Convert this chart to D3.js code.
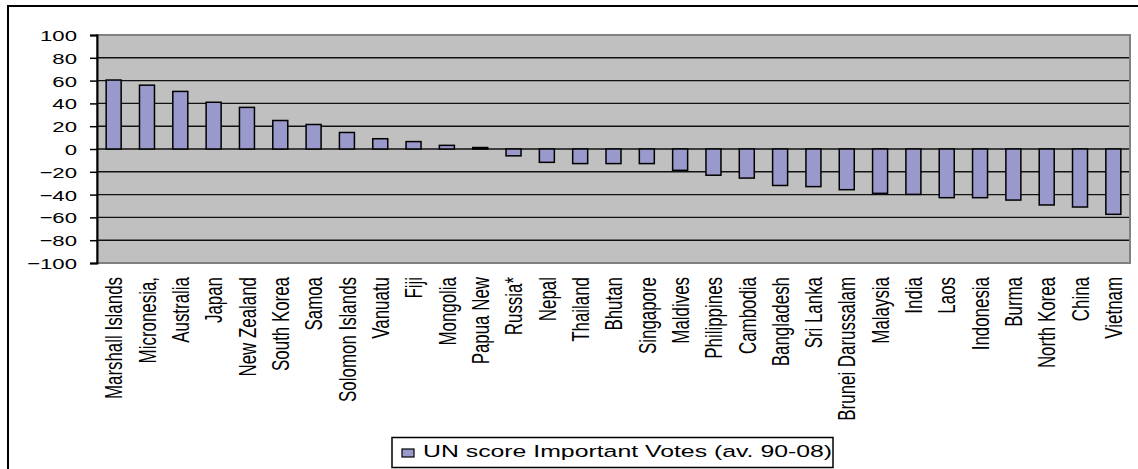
<!DOCTYPE html>
<html>
<head>
<meta charset="utf-8">
<script src="https://cdn.jsdelivr.net/npm/d3@7"></script>
<style>
  html, body { margin: 0; padding: 0; background: #fff; }
  svg { display: block; font-family: "Liberation Sans", Arial, sans-serif; }
</style>
</head>
<body>
<svg id="chart" width="1138" height="469"></svg>
<script>
// Countries, ordered by average score
const countries = [
  "Marshall Islands", "Micronesia,", "Australia", "Japan", "New Zealand",
  "South Korea", "Samoa", "Solomon Islands", "Vanuatu", "Fiji", "Mongolia",
  "Papua New", "Russia*", "Nepal", "Thailand", "Bhutan", "Singapore",
  "Maldives", "Philippines", "Cambodia", "Bangladesh", "Sri Lanka",
  "Brunei Darussalam", "Malaysia", "India", "Laos", "Indonesia", "Burma",
  "North Korea", "China", "Vietnam"
];

// UN score, important votes (average 1990-2008)
const scores = [
  60.5, 56, 50.5, 41, 36.5,
  25, 21.5, 14.5, 9, 6.5, 3.2,
  1.3, -6, -11.7, -12.8, -12.8, -12.8,
  -18.7, -23, -25.5, -32, -33,
  -35.7, -38.9, -39.8, -42.7, -42.7, -44.8,
  -49.1, -50.9, -57.3
];

const yTicks = [-100, -80, -60, -40, -20, 0, 20, 40, 60, 80, 100];
const seriesName = "UN score Important Votes (av. 90-08)";

const svg = d3.select("#chart");

// Plot region
const plot = { left: 97, right: 1130, top: 35, bottom: 263 };
const stretch = 1.43; // horizontal glyph stretch used by all labels

const x = d3.scaleBand()
  .domain(countries)
  .range([plot.left, plot.right])
  .paddingInner(0.55)
  .paddingOuter(0.275);

const y = d3.scaleLinear()
  .domain([-100, 100])
  .range([plot.bottom, plot.top]);

// Outer chart frame
svg.append("rect")
  .attr("x", 8).attr("y", 6)
  .attr("width", 1300).attr("height", 700)
  .attr("fill", "none")
  .attr("stroke", "#000")
  .attr("stroke-width", 2);

// Plot background
svg.append("rect")
  .attr("x", plot.left).attr("y", plot.top)
  .attr("width", plot.right - plot.left)
  .attr("height", plot.bottom - plot.top)
  .attr("fill", "#c0c0c0")
  .attr("stroke", "#808080")
  .attr("stroke-width", 2);

// Horizontal gridlines
svg.append("g")
  .selectAll("line")
  .data(yTicks.filter(d => d !== 100 && d !== -100))
  .join("line")
  .attr("x1", plot.left).attr("x2", plot.right - 1)
  .attr("y1", d => y(d)).attr("y2", d => y(d))
  .attr("stroke", "#111")
  .attr("stroke-width", 1.4);

// Bars
svg.append("g")
  .selectAll("rect")
  .data(countries.map((c, i) => ({ c, v: scores[i] })))
  .join("rect")
  .attr("x", d => x(d.c))
  .attr("width", x.bandwidth())
  .attr("y", d => y(Math.max(0, d.v)))
  .attr("height", d => Math.abs(y(d.v) - y(0)))
  .attr("fill", "#9999cc")
  .attr("stroke", "#000")
  .attr("stroke-width", 1.5);

// Y axis
const yAxis = svg.append("g")
  .attr("transform", `translate(${plot.left},0)`)
  .call(d3.axisLeft(y).tickValues(yTicks).tickSize(7).tickSizeOuter(7).tickPadding(0));

yAxis.select(".domain").attr("stroke", "#000").attr("stroke-width", 2);
yAxis.selectAll(".tick line").attr("stroke", "#000").attr("stroke-width", 1.5);
yAxis.selectAll(".tick text")
  .attr("font-family", "'Liberation Sans', Arial, sans-serif")
  .attr("font-size", 15.5)
  .attr("fill", "#000")
  .attr("text-anchor", "end")
  .attr("x", -20 / stretch)
  .attr("dy", "0.36em")
  .attr("transform", `scale(${stretch},1)`);

// X axis (category labels, rotated)
const xAxis = svg.append("g")
  .attr("transform", `translate(0,${plot.bottom})`)
  .call(d3.axisBottom(x).tickSize(0).tickPadding(0));

xAxis.select(".domain").remove();
xAxis.selectAll(".tick text")
  .attr("font-family", "'Liberation Sans', Arial, sans-serif")
  .attr("font-size", 16.9)
  .attr("fill", "#000")
  .attr("text-anchor", "end")
  .attr("x", 0).attr("y", 0)
  .attr("dy", "0.36em")
  .attr("transform", `translate(0,14) rotate(-90) scale(1,${stretch})`);

// Legend
const legend = svg.append("g");
legend.append("rect")
  .attr("x", 392).attr("y", 437.5)
  .attr("width", 441).attr("height", 30)
  .attr("fill", "#fff")
  .attr("stroke", "#000")
  .attr("stroke-width", 1.5);
legend.append("rect")
  .attr("x", 402).attr("y", 449)
  .attr("width", 12).attr("height", 8)
  .attr("fill", "#9999cc")
  .attr("stroke", "#000")
  .attr("stroke-width", 1.2);
legend.append("text")
  .attr("transform", `translate(423,457) scale(1.46,1)`)
  .attr("font-size", 17)
  .attr("fill", "#000")
  .text(seriesName);
</script>
</body>
</html>
